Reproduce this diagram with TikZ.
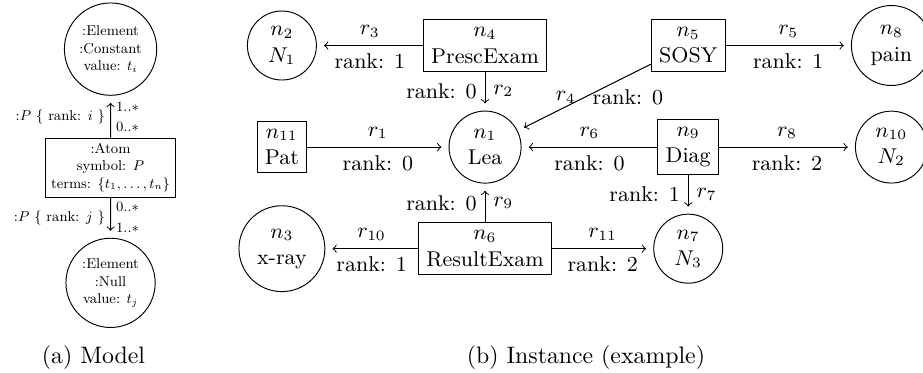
\documentclass[tikz,border=0pt]{standalone}
\usepackage{amsmath}
\usepackage{tikz}
\usetikzlibrary{positioning}

\begin{document}
\begin{tikzpicture}[
 font=\small,
 elem/.style={circle,draw,align=center},
 obj/.style={rectangle,draw,align=center},
 arr/.style={->,shorten >=3pt},
 node distance=1.5cm and 3cm, on grid
]
\useasboundingbox (-203.8pt,-94.5pt) rectangle (184pt,61.8pt);

% (a) model, drawn smaller
\begin{scope}[shift={(-5.53cm,-8.6pt)},scale=0.665,transform shape]
\node[obj] (atom) at (0,0) {:Atom\\symbol: $P$\\terms: $\{t_1,\dots,t_n\}$};
\node[elem] (const) at (0,2.63cm) {:Element\\:Constant\\value: $t_i$};
\node[elem] (null) at (0,-2.56cm) {:Element\\:Null\\value: $t_j$};
\draw[arr] (atom)--node[left]{:$P$ $\{$ rank: $i$ $\}$} node[above right]{1..$*$} node[below right]{0..$*$}(const);
\draw[arr] (atom)--node[left]{:$P$ $\{$ rank: $j$ $\}$} node[above right]{0..$*$} node[below right]{1..$*$}(null);
\end{scope}

% (b) instance
\node[elem] (n1) {$n_1$\\Lea};
\node[obj,left=of n1] (n11) {$n_{11}$\\Pat};
\node[obj,above=of n1] (n4) {$n_4$\\PrescExam};
\node[obj,below=of n1] (n6) {$n_6$\\ResultExam};
\node[obj,right=of n1] (n9) {$n_9$\\Diag};
\node[elem,above=of n11] (n2) {$n_2$\\$N_1$};
\node[elem,below=of n11] (n3) {$n_3$\\x-ray};
\node[obj,above=of n9] (n5) {$n_5$\\SOSY};
\node[elem,below=of n9] (n7) {$n_7$\\$N_3$};
\node[elem,right=of n9] (n10) {$n_{10}$\\$N_2$};
\node[elem,above=of n10] (n8) {$n_8$\\pain};

\draw[arr] (n11)--node[above]{$r_1$} node[below]{rank: 0}(n1);
\draw[arr] (n4)--node[left]{rank: 0} node[right]{$r_2$}(n1);
\draw[arr] (n4)--node[above]{$r_3$} node[below]{rank: 1}(n2);
\draw[arr] (n5)--node[left]{$r_4$} node[right]{rank: 0}(n1);
\draw[arr] (n5)--node[above]{$r_5$} node[below]{rank: 1}(n8);
\draw[arr] (n9)--node[above]{$r_6$} node[below]{rank: 0}(n1);
\draw[arr] (n9)--node[left]{rank: 1} node[right]{$r_7$}(n7);
\draw[arr] (n9)--node[above]{$r_8$} node[below]{rank: 2}(n10);
\draw[arr] (n6)--node[left]{rank: 0} node[right]{$r_9$}(n1);
\draw[arr] (n6)--node[above]{$r_{10}$} node[below]{rank: 1}(n3);
\draw[arr] (n6)--node[above]{$r_{11}$} node[below]{rank: 2}(n7);

% captions
\node[anchor=base,font=\normalsize] (capa) at (-164.5pt,-90.8pt) {(a) Model};
\node[anchor=base,font=\normalsize] (capb) at (42.4pt,-90.8pt) {(b) Instance (example)};
\end{tikzpicture}
\end{document}
